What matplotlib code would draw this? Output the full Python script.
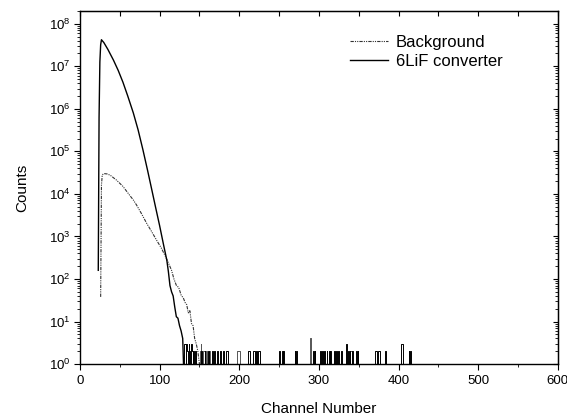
import numpy as np
import matplotlib
matplotlib.use("Agg")
from matplotlib import pyplot as plt
from matplotlib.ticker import LogLocator, MultipleLocator, NullFormatter

plt.rcParams['font.family'] = ['Liberation Sans', 'DejaVu Sans']
plt.rcParams['mathtext.default'] = 'regular'

# 6LiF converter spectrum, smooth part (channel, counts)
lif_ch = [23, 24, 25, 26, 27, 30, 35, 42, 48, 54, 60, 67, 73, 79, 85, 90, 95,
          100, 105, 109, 111, 113, 115, 117, 119, 121, 123, 125, 127, 129, 130]
lif_counts = [160, 6.3e5, 1.26e7, 3.2e7, 4.2e7, 3.6e7, 2.5e7, 1.4e7, 8.0e6,
              4.2e6, 2.0e6, 8.0e5, 3.2e5, 1.1e5, 3.5e4, 1.3e4, 4.8e3,
              1.8e3, 630, 280, 150, 70, 50, 40, 22, 13, 12, 8, 6, 4, 1]

# background spectrum, smooth part
bg_ch = [26, 27, 28, 30, 34, 38, 46, 54, 62, 67, 71, 77, 84, 90, 96, 102, 107,
         111, 115, 118, 121, 124, 127, 130, 132, 134, 136, 138, 140, 142, 144,
         146, 148, 150]
bg_counts = [38, 1.6e4, 2.8e4, 3.0e4, 2.95e4, 2.75e4, 2.1e4, 1.5e4, 9.5e3,
             7.2e3, 5.5e3, 3.5e3, 2.0e3, 1.3e3, 830, 540, 350, 240, 160, 100,
             71, 63, 42, 35, 28, 25, 16, 18, 9, 8, 4, 3, 2, 1]

# sparse single counts in the tail (channel, counts)
lif_tail_ch = [131, 132, 134, 135, 137, 138, 140, 141, 143, 145, 153, 157,
               161, 166, 167, 169, 172, 173, 176, 177, 180, 184, 185, 212,
               213, 218, 219, 222, 224, 225, 250, 251, 254, 256, 270, 272,
               293, 295, 302, 304, 307, 310, 313, 315, 320, 322, 325, 328,
               335, 337, 339, 342, 347, 349, 371, 372, 375, 376, 384, 404,
               405, 413, 415]
lif_tail_counts = [3, 3, 3, 2, 3, 2, 3, 2, 2, 2, 2, 2,
                   2, 2, 2, 2, 2, 2, 2, 2, 2, 2, 2, 2,
                   2, 2, 2, 2, 2, 2, 2, 2, 2, 2, 2, 2,
                   2, 2, 2, 2, 2, 2, 2, 2, 2, 2, 2, 2,
                   3, 2, 2, 2, 2, 2, 2, 2, 2, 2, 2, 3,
                   3, 2, 2]
bg_tail_ch = [151, 152, 155, 156, 159, 163, 198, 199, 200, 289, 290, 340, 341]
bg_tail_counts = [2, 3, 2, 2, 2, 2, 2, 2, 2, 4, 4, 2, 2]

n_channels = 601

fig = plt.figure(figsize=(5.67, 4.19), dpi=100)
ax = fig.add_axes([0.141, 0.131, 0.843, 0.843])

bg_style = dict(color='#333333', linewidth=0.8, linestyle=(0, (3, 1, 1, 1, 1, 1)))
lif_style = dict(color='black', linewidth=1.0, linestyle='-')

# tails as step histograms
lif_tail = np.zeros(n_channels)
lif_tail[lif_tail_ch] = lif_tail_counts
bg_tail = np.zeros(n_channels)
bg_tail[bg_tail_ch] = bg_tail_counts
chan = np.arange(n_channels)

ax.step(chan[150:], bg_tail[150:], where='mid', color='#555555', linewidth=0.7)
ax.step(chan[130:], lif_tail[130:], where='mid', color='black', linewidth=0.7)

l_bg, = ax.plot(bg_ch, bg_counts, label='Background', **bg_style)
l_lif, = ax.plot(lif_ch, lif_counts, label='6LiF converter', **lif_style)

ax.set_yscale('log', nonpositive='clip')
ax.set_xlim(0, 600)
ax.set_ylim(1, 2e8)

ax.xaxis.set_major_locator(MultipleLocator(100))
ax.xaxis.set_minor_locator(MultipleLocator(50))
ax.yaxis.set_major_locator(LogLocator(base=10, numticks=20))
ax.yaxis.set_minor_locator(LogLocator(base=10, subs=np.arange(2, 10), numticks=20))
ax.yaxis.set_minor_formatter(NullFormatter())
ax.tick_params(which='major', direction='out', length=4, width=0.8, labelsize=9.5, pad=2.5)
ax.tick_params(which='minor', direction='out', length=2.5, width=0.6)
ax.tick_params(axis='x', which='major', pad=4)

# top / right ticks point inwards
top = ax.secondary_xaxis('top')
top.xaxis.set_major_locator(MultipleLocator(50))
top.tick_params(direction='in', length=3.5, width=0.8, labeltop=False)
right = ax.secondary_yaxis('right')
right.yaxis.set_major_locator(LogLocator(base=10, numticks=20))
right.yaxis.set_minor_locator(LogLocator(base=10, subs=np.arange(2, 10), numticks=20))
right.tick_params(which='major', direction='in', length=3.5, width=0.8, labelright=False)
right.tick_params(which='minor', direction='in', length=2, width=0.6, labelright=False)

for s in ax.spines.values():
    s.set_linewidth(1.0)

ax.set_xlabel('Channel Number', fontsize=11, labelpad=11)
ax.set_ylabel('Counts', fontsize=11, labelpad=14)

ax.legend(handles=[l_bg, l_lif], loc='upper right', bbox_to_anchor=(0.915, 0.975),
          frameon=False, fontsize=12, handlelength=2.3, handletextpad=0.45,
          labelspacing=0.25)

fig.savefig('out.png', dpi=100)
